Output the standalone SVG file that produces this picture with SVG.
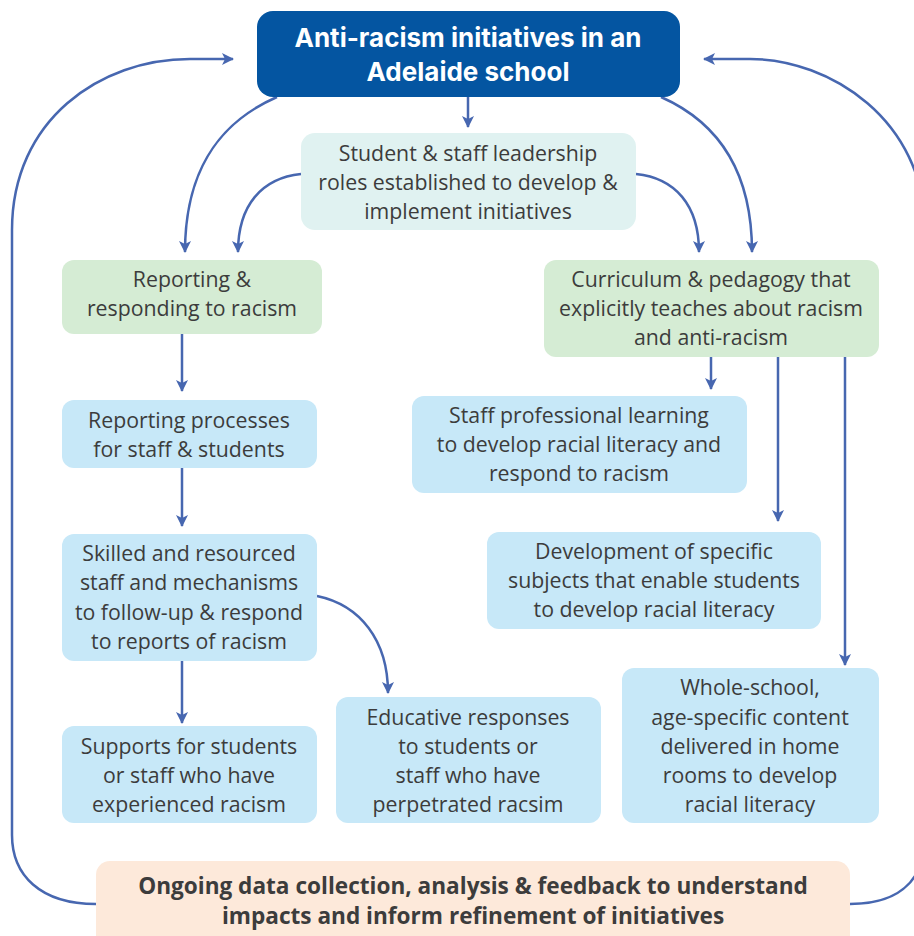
<svg xmlns="http://www.w3.org/2000/svg" width="914" height="936" viewBox="0 0 914 936">
<defs>
<marker id="ah" viewBox="0 0 12 12" refX="11" refY="6" markerWidth="12" markerHeight="12" markerUnits="userSpaceOnUse" orient="auto">
<path d="M0,0 L12,6 L0,12 L3,6 Z" fill="#4767b0"/>
</marker>
<style>
.t{font-family:"Open Sans","Noto Sans",sans-serif;font-size:21.3px;fill:#3c3c3c;text-anchor:middle}
.tb{font-family:"Open Sans","Noto Sans",sans-serif;font-size:22.6px;font-weight:bold;fill:#3c3c3c;text-anchor:middle}
.h{font-family:Inter,"Liberation Sans",sans-serif;font-size:26px;font-weight:bold;fill:#ffffff;text-anchor:middle}
.c{fill:none;stroke:#4767b0;stroke-width:2.5;marker-end:url(#ah)}
.lb{fill:#c7e8f8}
.gr{fill:#d5ecd4}
</style>
</defs>
<rect width="914" height="936" fill="#ffffff"/>
<g id="connectors">
<path class="c" d="M96,904 C40,904 12,875 12,835 L12,230 C12,120 100,59 190,59 L233,59"/>
<path class="c" d="M850,904 C905,904 925,875 925,835 L925,230 C925,120 830,59 750,59 L704,59"/>
<path class="c" d="M468,97 L468,127"/>
<path class="c" d="M277,97 C215,124 185,175 185,252"/>
<path class="c" d="M301,174 C262,178 238,205 238,252"/>
<path class="c" d="M636,174 C675,178 699,205 699,252"/>
<path class="c" d="M661,97 C722,124 752,175 752,252"/>
<path class="c" d="M182,334 L182,391"/>
<path class="c" d="M182,468 L182,526"/>
<path class="c" d="M182,661 L182,723"/>
<path class="c" d="M317,596 C360,605 388,640 388,693"/>
<path class="c" d="M711,357 L711,389"/>
<path class="c" d="M778,357 L778,521"/>
<path class="c" d="M845,357 L845,665"/>
</g>
<g id="title">
<rect x="257" y="11" width="423" height="86" rx="16" fill="#0455a1"/>
<text class="h" x="468" y="47">Anti-racism initiatives in an</text>
<text class="h" x="468" y="81">Adelaide school</text>
</g>
<g id="leadership">
<rect x="301" y="133" width="335" height="97" rx="14" fill="#e0f2f1"/>
<text class="t" x="468" y="161">Student &amp; staff leadership</text>
<text class="t" x="468" y="190">roles established to develop &amp;</text>
<text class="t" x="468" y="219">implement initiatives</text>
</g>
<g id="reporting">
<rect class="gr" x="62" y="260" width="260" height="74" rx="12"/>
<text class="t" x="192" y="287">Reporting &amp;</text>
<text class="t" x="192" y="316">responding to racism</text>
</g>
<g id="curriculum">
<rect class="gr" x="544" y="260" width="335" height="97" rx="12"/>
<text class="t" x="711" y="287">Curriculum &amp; pedagogy that</text>
<text class="t" x="711" y="316">explicitly teaches about racism</text>
<text class="t" x="711" y="345">and anti-racism</text>
</g>
<g id="processes">
<rect class="lb" x="62" y="400" width="255" height="68" rx="12"/>
<text class="t" x="189" y="428">Reporting processes</text>
<text class="t" x="189" y="457">for staff &amp; students</text>
</g>
<g id="skilled">
<rect class="lb" x="62" y="534" width="255" height="127" rx="12"/>
<text class="t" x="189" y="561">Skilled and resourced</text>
<text class="t" x="189" y="590">staff and mechanisms</text>
<text class="t" x="189" y="620">to follow-up &amp; respond</text>
<text class="t" x="189" y="649">to reports of racism</text>
</g>
<g id="supports">
<rect class="lb" x="62" y="726" width="255" height="97" rx="12"/>
<text class="t" x="189" y="754">Supports for students</text>
<text class="t" x="189" y="783">or staff who have</text>
<text class="t" x="189" y="812">experienced racism</text>
</g>
<g id="educative">
<rect class="lb" x="336" y="697" width="265" height="126" rx="12"/>
<text class="t" x="468" y="725">Educative responses</text>
<text class="t" x="468" y="754">to students or</text>
<text class="t" x="468" y="783">staff who have</text>
<text class="t" x="468" y="812">perpetrated racsim</text>
</g>
<g id="staffpl">
<rect class="lb" x="412" y="396" width="335" height="97" rx="12"/>
<text class="t" x="579" y="423">Staff professional learning</text>
<text class="t" x="579" y="452">to develop racial literacy and</text>
<text class="t" x="579" y="481">respond to racism</text>
</g>
<g id="development">
<rect class="lb" x="487" y="532" width="334" height="97" rx="12"/>
<text class="t" x="654" y="559">Development of specific</text>
<text class="t" x="654" y="588">subjects that enable students</text>
<text class="t" x="654" y="617">to develop racial literacy</text>
</g>
<g id="wholeschool">
<rect class="lb" x="622" y="668" width="257" height="155" rx="12"/>
<text class="t" x="750" y="695">Whole-school,</text>
<text class="t" x="750" y="725">age-specific content</text>
<text class="t" x="750" y="754">delivered in home</text>
<text class="t" x="750" y="783">rooms to develop</text>
<text class="t" x="750" y="812">racial literacy</text>
</g>
<g id="ongoing">
<rect x="96" y="861" width="754" height="100" rx="14" fill="#fde9da"/>
<text class="tb" x="473" y="894">Ongoing data collection, analysis &amp; feedback to understand</text>
<text class="tb" x="473" y="924">impacts and inform refinement of initiatives</text>
</g>
</svg>
